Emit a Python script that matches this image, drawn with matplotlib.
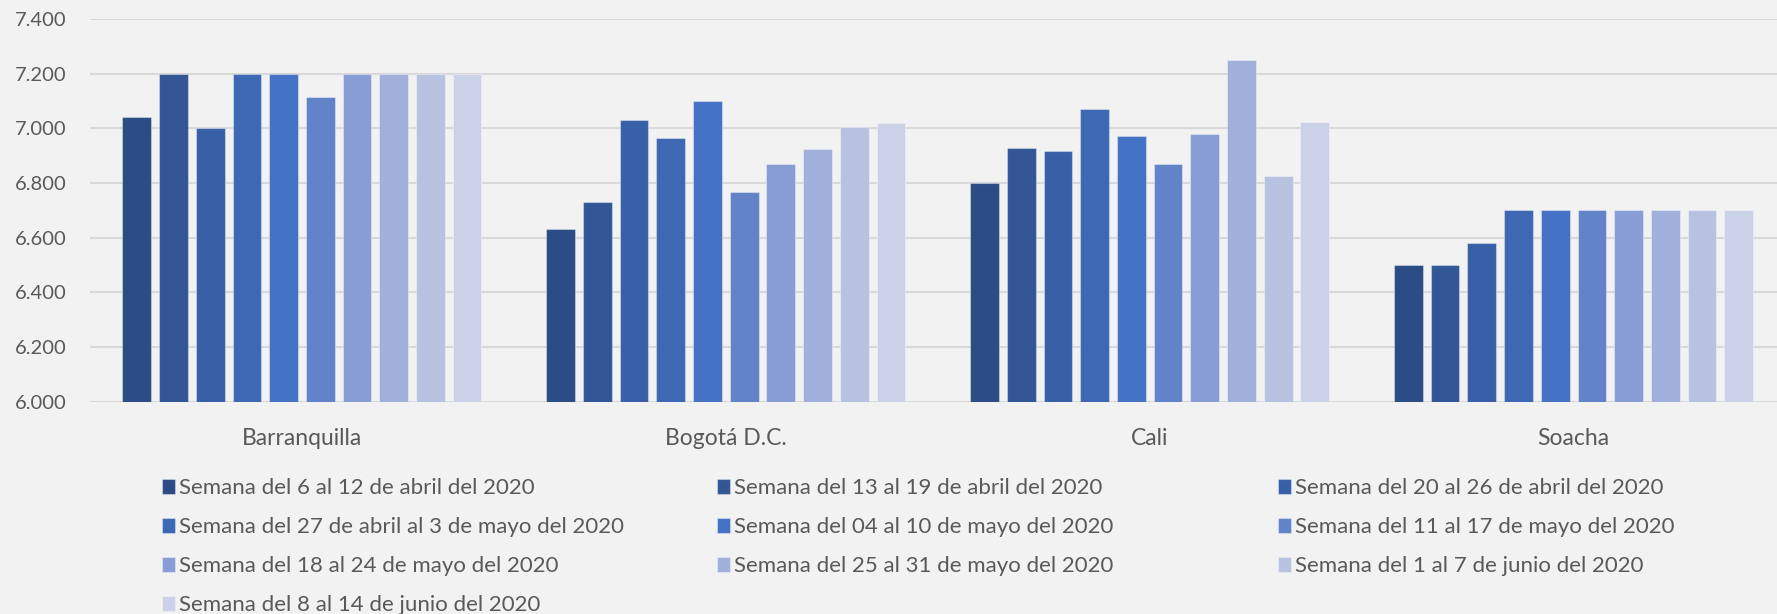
import numpy as np
import matplotlib
matplotlib.use("Agg")
import matplotlib.pyplot as plt

plt.rcParams['font.family'] = ['Lato', 'DejaVu Sans']

ciudades = ["Barranquilla", "Bogotá D.C.", "Cali", "Soacha"]

semanas = [
    "Semana del 6 al 12 de abril del 2020",
    "Semana del 13 al 19 de abril del 2020",
    "Semana del 20 al 26 de abril del 2020",
    "Semana del 27 de abril al 3 de mayo del 2020",
    "Semana del 04 al 10 de mayo del 2020",
    "Semana del 11 al 17 de mayo del 2020",
    "Semana del 18 al 24 de mayo del 2020",
    "Semana del 25 al 31 de mayo del 2020",
    "Semana del 1 al 7 de junio del 2020",
    "Semana del 8 al 14 de junio del 2020",
]

# valores por ciudad, una fila por semana (Barranquilla, Bogotá, Cali, Soacha)
sem_06_12_abr = [7040, 6633, 6800, 6500]
sem_13_19_abr = [7200, 6729, 6927, 6500]
sem_20_26_abr = [7000, 7030, 6916, 6580]
sem_27_abr_3_may = [7200, 6965, 7071, 6700]
sem_04_10_may = [7200, 7099, 6973, 6700]
sem_11_17_may = [7113, 6766, 6868, 6700]
sem_18_24_may = [7200, 6870, 6978, 6700]
sem_25_31_may = [7200, 6924, 7250, 6700]
sem_01_07_jun = [7200, 7005, 6825, 6700]
sem_08_14_jun = [7200, 7021, 7023, 6700]

valores = [sem_06_12_abr, sem_13_19_abr, sem_20_26_abr, sem_27_abr_3_may,
           sem_04_10_may, sem_11_17_may, sem_18_24_may, sem_25_31_may,
           sem_01_07_jun, sem_08_14_jun]

colores = ["#2B4C84", "#335796", "#3860A6", "#3D68B3", "#4472C4",
           "#6283C8", "#879DD4", "#A1B0DB", "#B7C2E1", "#CBD1E7"]

fondo = "#F2F2F2"
gris = "#595959"

fig = plt.figure(figsize=(17.77, 6.14), dpi=100, facecolor=fondo)
ax = fig.add_axes([90 / 1777, 1 - 401.7 / 614, 1 - 90 / 1777, (401.7 - 19) / 614])
ax.set_facecolor(fondo)

x = np.arange(len(ciudades))
paso = 0.0866
ancho = 0.0678
barras = []
for i, (vals, col) in enumerate(zip(valores, colores)):
    b = ax.bar(x + (i - 4.5) * paso, np.array(vals) / 1000, width=ancho,
               color=col, edgecolor=(1, 1, 1, 0.35), linewidth=0.8,
               label=semanas[i], zorder=3)
    barras.append(b)

ax.set_ylim(6.0, 7.4)
ax.set_xlim(-0.5, 3.48)
ax.set_yticks(np.arange(6.0, 7.41, 0.2))
ax.set_yticklabels([f"{v:.3f}" for v in np.arange(6.0, 7.41, 0.2)])
ax.yaxis.grid(True, color="#D9D9D9", linewidth=1.5, zorder=0)
ax.set_axisbelow(True)
ax.set_xticks(x)
ax.set_xticklabels(ciudades)
ax.tick_params(axis="both", length=0, colors=gris, labelsize=14.5)
ax.tick_params(axis="y", pad=17)
ax.tick_params(axis="x", pad=19, labelsize=16.5)
for s in ax.spines.values():
    s.set_visible(False)

# leyenda en 3 columnas, orden por filas
cols_x = [162, 717, 1278]
for c in range(3):
    idx = list(range(c, len(semanas), 3))
    fig.legend([barras[i] for i in idx], [semanas[i] for i in idx],
               loc="upper left", bbox_to_anchor=(cols_x[c] / 1777, 1 - 478 / 614),
               frameon=False, fontsize=16, labelcolor=gris,
               handlelength=0.6, handleheight=0.65, handletextpad=0.15,
               labelspacing=0.86, borderpad=0, borderaxespad=0)

fig.savefig("out.png", dpi=100, facecolor=fondo)
